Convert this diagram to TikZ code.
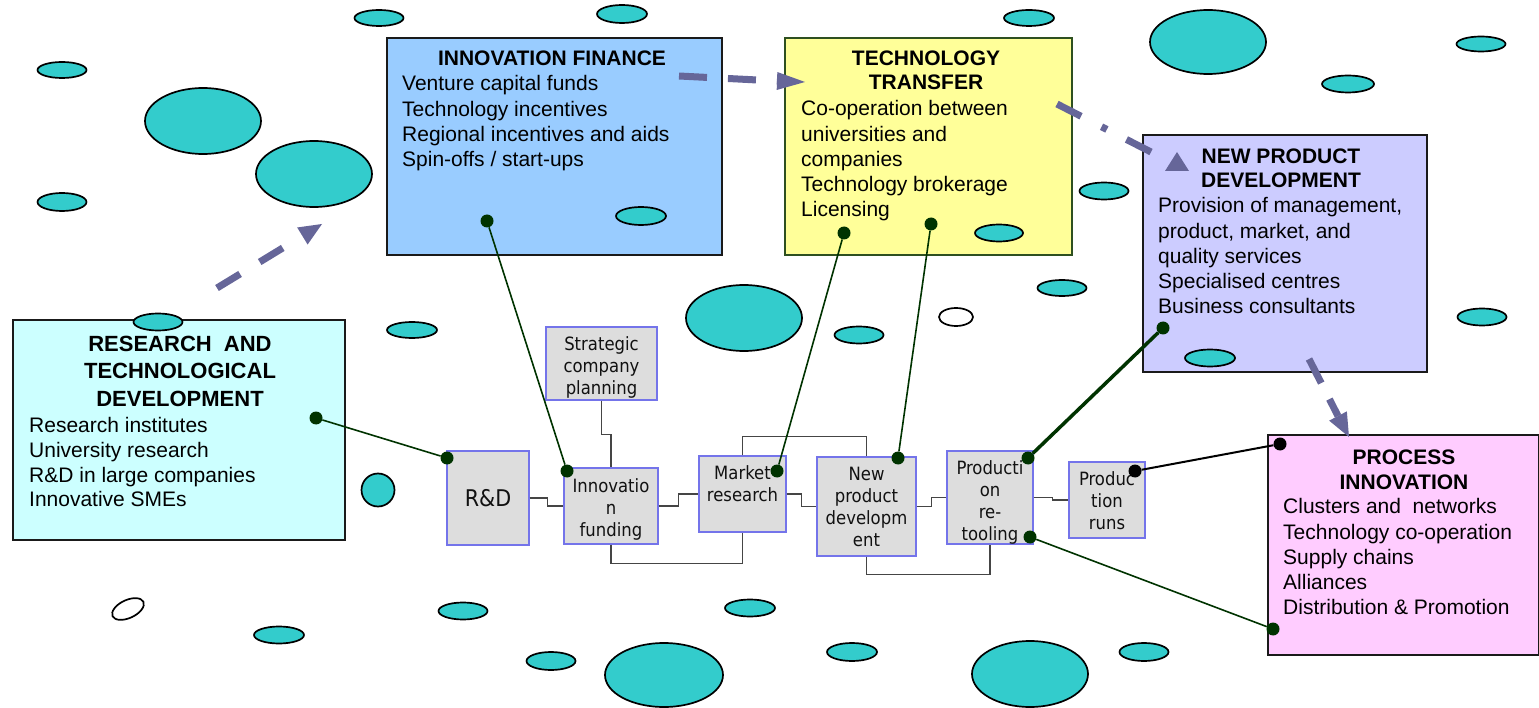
\documentclass[tikz,border=0pt]{standalone}
\usepackage{fontspec}
\setmainfont{Liberation Sans}
\newfontfamily\boxfont{DejaVu Sans Condensed}
\usetikzlibrary{calc}
\definecolor{tealc}{HTML}{33CCCC}
\definecolor{rtdc}{HTML}{CCFFFF}
\definecolor{ifc}{HTML}{99CCFF}
\definecolor{ttc}{HTML}{FFFF99}
\definecolor{npdc}{HTML}{CCCCFF}
\definecolor{pic}{HTML}{FFCCFF}
\definecolor{greyc}{HTML}{DDDDDD}
\definecolor{sbord}{HTML}{7474EA}
\definecolor{arrowc}{HTML}{666699}
\definecolor{dotc}{HTML}{003300}
\definecolor{ttbord}{HTML}{2E5020}
\definecolor{boxline}{HTML}{1A1A1A}
\definecolor{chainc}{HTML}{454545}
\definecolor{sboxtext}{HTML}{111111}
\tikzset{
 bigbox/.style={draw=boxline, line width=2pt, anchor=north west, inner sep=0pt},
 sbox/.style={draw=sbord, fill=greyc, line width=1.3pt, inner sep=0pt, align=center,
   font=\boxfont\fontsize{18}{22}\selectfont, text=sboxtext},
 stxt/.style={anchor=north, inner sep=0pt, align=center,
   font=\boxfont\fontsize{18.3}{22}\selectfont, text=sboxtext},
 itemtxt/.style={anchor=north west, align=left, inner sep=0pt, font=\fontsize{21}{25.2}\selectfont},
 titletxt/.style={anchor=north, align=center, inner sep=0pt, font=\fontsize{21}{24}\selectfont\bfseries},
 blob/.style={draw=black, line width=1.7pt, fill=tealc},
 hollow/.style={draw=black, line width=1.7pt, fill=white},
 pline/.style={draw=chainc, line width=1.4pt},
 gline/.style={draw=dotc, line width=1.6pt},
 dotn/.style={circle, fill=dotc, inner sep=0pt, minimum size=13pt},
 darrow/.style={draw=arrowc, line width=7pt},
 ahead/.style={fill=arrowc},
}
\begin{document}
\begin{tikzpicture}[x=1pt,y=-1pt]
\useasboundingbox (0,0) rectangle (1539,708);
\fill[white] (0,0) rectangle (1539,708);

% big boxes
\node[bigbox, fill=rtdc, minimum width=332pt, minimum height=220pt] (rtd) at (12,319) {};
\node[bigbox, fill=ifc, minimum width=335pt, minimum height=217pt] (inf) at (386,37) {};
\node[bigbox, fill=ttc, draw=ttbord, minimum width=287pt, minimum height=217pt] (tt) at (784,37) {};
\node[bigbox, fill=npdc, minimum width=284pt, minimum height=237pt] (npdb) at (1142,134) {};
\node[bigbox, fill=pic, minimum width=271pt, minimum height=220pt] (pib) at (1267,434) {};

% small process boxes
\node[sbox, minimum width=111pt, minimum height=73pt] (sp) at (601.5,363.5) {};
\node[sbox, minimum width=82pt, minimum height=94pt, font=\boxfont\fontsize{23}{27}\selectfont] (rd) at (488,498) {R\&D};
\node[sbox, minimum width=94pt, minimum height=76pt] (ifb) at (611,506) {};
\node[sbox, minimum width=87pt, minimum height=76pt] (mr) at (742.5,494) {};
\node[sbox, minimum width=99pt, minimum height=99pt] (npd) at (866.5,506.5) {};
\node[sbox, minimum width=86pt, minimum height=93pt] (pr) at (990,497.5) {};
\node[sbox, minimum width=76pt, minimum height=76pt] (pruns) at (1107,500) {};

\node[stxt] (spt) at (601.5,334.6) {\strut Strategic\\\strut company\\\strut planning};
\node[stxt] (ifbt) at (611,476.6) {\strut Innovatio\\\strut n\\\strut funding};
\node[stxt] (mrt) at (742.5,463.6) {\strut Market\\\strut research};
\node[stxt] (npdt2) at (866.5,464.6) {\strut New\\\strut product\\\strut developm\\\strut ent};
\node[stxt] (prt) at (990,458.6) {\strut Producti\\\strut on\\\strut re-\\\strut tooling};
\node[stxt] (prunst) at (1107,469.6) {\strut Produc\\\strut tion\\\strut runs};

% chain connectors
\draw[pline] (rd.east) -- ++(18,0) |- (ifb.west);
\draw[pline] (ifb.east) -- ++(20,0) |- (mr.west);
\draw[pline] (mr.east) -- ++(15,0) |- (npd.west);
\draw[pline] (npd.east) -- ++(15,0) |- (pr.west);
\draw[pline] (pr.east) -- ++(19,0) |- (pruns.west);
\draw[pline] (sp.south) -- ++(0,34) -| (ifb.north);
\draw[pline] (ifb.south) -- ++(0,19) -| (mr.south);
\draw[pline] (mr.north) -- ++(0,-19) -| (npd.north);
\draw[pline] (npd.south) -- ++(0,18) -| (pr.south);

% dots
\node[dotn] (drtd) at (316,418) {};
\node[dotn] (drd) at (447,458) {};
\node[dotn] (dif) at (487,221) {};
\node[dotn] (difb) at (567,471) {};
\node[dotn] (dtt1) at (844,233) {};
\node[dotn] (dmr) at (777,471) {};
\node[dotn] (dtt2) at (931,224) {};
\node[dotn] (dnpds) at (898,458) {};
\node[dotn] (dnpd) at (1163,328) {};
\node[dotn] (dpr1) at (1028,458) {};
\node[dotn] (dpr2) at (1030,537) {};
\node[dotn] (dpi2) at (1273,629) {};
\node[dotn, fill=black] (druns) at (1135,471) {};
\node[dotn, fill=black] (dpi1) at (1280,444) {};

% links
\draw[gline] (drtd) -- (drd);
\draw[gline] (dif) -- (difb);
\draw[gline] (dtt1) -- (dmr);
\draw[gline] (dtt2) -- (dnpds);
\draw[gline, line width=3.5pt] (dnpd) -- (dpr1);
\draw[gline] (dpr2) -- (dpi2);
\draw[black, line width=2pt] (druns) -- (dpi1);

% ellipses
\foreach \cx/\cy/\rx/\ry in {379/18/24.5/8, 622/14/25/9, 1029/18/25/8, 62/70/24.5/8,
  203/121/58/33, 314/174/58/33, 62/202/24.5/9, 641/216/25/9, 1208/42/58/32,
  1481/44/24.5/7.5, 1348/84/26/8.5, 1104/191/24.5/8.5, 999/233/24/8.5,
  744/318/58/33, 859/335/24.5/8.5, 1062/288/24.5/8, 1210/358/25/8.5,
  1482/317/24.5/8.5, 412/330/25/8, 158/322/24.5/8.5, 378/490/16.5/16.5,
  463/611/24.5/8.5, 279/635/25/8.5, 551/661/24.5/9, 664/675/59/32,
  750/608/25/8.5, 852/652/25/9, 1030/674/58/33, 1144/652/24.5/9}
  {\draw[blob] (\cx,\cy) ellipse [x radius=\rx, y radius=\ry];}
\draw[hollow] (956,317) ellipse [x radius=17, y radius=9];
\draw[hollow, rotate around={25:(128,609)}] (128,609) ellipse [x radius=17, y radius=9];

% dashed arrows
\coordinate (a1s) at (217,288);
\coordinate (a1b) at (302.4,236);
\coordinate (a1t) at (322,224);
\draw[darrow, dash pattern=on 27pt off 23pt] (a1s) -- (a1b);
\fill[ahead] (a1t) -- ($(a1b)!10pt!90:(a1t)$) -- ($(a1b)!10pt!-90:(a1t)$) -- cycle;

\coordinate (a2s) at (679,76);
\coordinate (a2b) at (777,81);
\coordinate (a2t) at (805,82);
\draw[darrow, dash pattern=on 28pt off 21pt] (a2s) -- (a2b);
\fill[ahead] (a2t) -- ($(a2b)!9pt!90:(a2t)$) -- ($(a2b)!9pt!-90:(a2t)$) -- cycle;

\coordinate (a3s) at (1057,104);
\coordinate (a3e) at (1151,152);
\draw[darrow, dash pattern=on 27pt off 23pt on 6pt off 22pt on 40pt] (a3s) -- (a3e);
\coordinate (a3t) at (1177,152);
\fill[ahead] (a3t) -- (1165,171) -- (1189,171) -- cycle;

\coordinate (a4s) at (1309,359);
\coordinate (a4b) at (1338,416);
\coordinate (a4t) at (1349,437);
\draw[darrow, dash pattern=on 27pt off 18pt] (a4s) -- (a4b);
\fill[ahead] (a4t) -- ($(a4b)!10pt!90:(a4t)$) -- ($(a4b)!10pt!-90:(a4t)$) -- cycle;

% texts of big boxes
\node[titletxt, font=\fontsize{22}{27.5}\selectfont\bfseries] (rtdt) at (180,331.6)
  {\strut RESEARCH~~AND\\\strut TECHNOLOGICAL\\\strut DEVELOPMENT};
\node[itemtxt, font=\fontsize{21}{24.8}\selectfont] (rtdi) at (29,415)
  {\strut Research institutes\\\strut University research\\\strut R\&D in large companies\\\strut Innovative SMEs};

\node[titletxt] (inft) at (552,49) {\strut INNOVATION FINANCE};
\node[itemtxt] (infi) at (402,73)
  {\strut Venture capital funds\\\strut Technology incentives\\\strut Regional incentives and aids\\\strut Spin-offs / start-ups};

\node[titletxt] (ttt) at (926,48.7) {\strut TECHNOLOGY\\\strut TRANSFER};
\node[itemtxt] (tti) at (801,98)
  {\strut Co-operation between\\\strut universities and\\\strut companies\\\strut Technology brokerage\\\strut Licensing};

\node[titletxt] (npdt) at (1281,146.7) {\strut NEW PRODUCT\\\strut DEVELOPMENT};
\node[itemtxt] (npdi) at (1158,195)
  {\strut Provision of management,\\\strut product, market, and\\\strut quality services\\\strut Specialised centres\\\strut Business consultants};

\node[titletxt, font=\fontsize{21}{25}\selectfont\bfseries] (pit) at (1404,447) {\strut PROCESS\\\strut INNOVATION};
\node[itemtxt] (pii) at (1283,496)
  {\strut Clusters and~ networks\\\strut Technology co-operation\\\strut Supply chains\\\strut Alliances\\\strut Distribution \& Promotion};
\end{tikzpicture}
\end{document}
